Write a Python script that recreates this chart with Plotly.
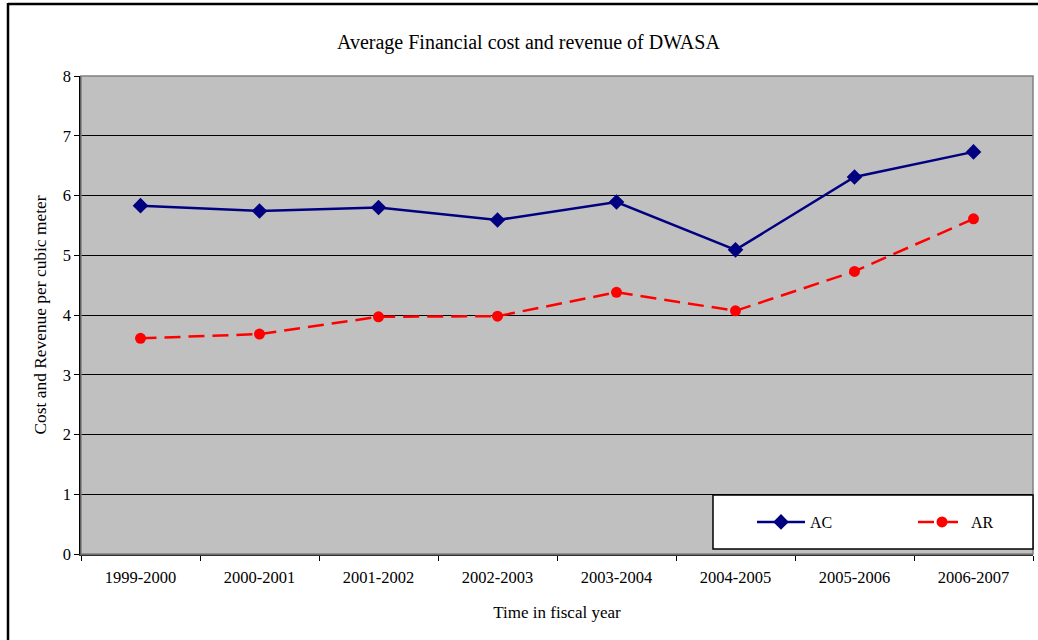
import plotly.graph_objects as go

years = ["1999-2000", "2000-2001", "2001-2002", "2002-2003",
         "2003-2004", "2004-2005", "2005-2006", "2006-2007"]
ac_values = [5.83, 5.74, 5.80, 5.59, 5.89, 5.09, 6.31, 6.73]
ar_values = [3.61, 3.68, 3.97, 3.98, 4.38, 4.07, 4.73, 5.61]
y_ticks = [0, 1, 2, 3, 4, 5, 6, 7, 8]

W, H = 1038, 640
L, R, T, B = 81, 5, 76, 86
FONT = "Liberation Serif"

fig = go.Figure()
fig.add_trace(go.Scatter(
    x=years, y=ac_values, name="AC", mode="lines+markers",
    line=dict(color="#000080", width=2.5),
    marker=dict(symbol="diamond", size=12, color="#000080"),
))
fig.add_trace(go.Scatter(
    x=years, y=ar_values, name="AR", mode="lines+markers",
    line=dict(color="#FF0000", width=2.5, dash="16px,8px"),
    marker=dict(symbol="circle", size=11, color="#FF0000"),
))

pw = W - L - R
ph = H - T - B

def px_x(p):
    return (p - L) / pw

def px_y(p):
    return (H - B - p) / ph

fig.update_layout(
    width=W, height=H,
    margin=dict(l=L, r=R, t=T, b=B, autoexpand=False),
    paper_bgcolor="white",
    plot_bgcolor="#C0C0C0",
    font=dict(family=FONT, size=16, color="black"),
    showlegend=True,
    legend=dict(
        orientation="h",
        x=px_x(752), y=px_y(522), xanchor="left", yanchor="middle",
        bgcolor="rgba(0,0,0,0)", borderwidth=0,
        font=dict(family=FONT, size=16, color="black"),
        entrywidth=98, entrywidthmode="pixels",
        itemwidth=48,
        tracegroupgap=0,
    ),
    xaxis=dict(
        type="category",
        showgrid=False,
        showline=True, linecolor="#333333", linewidth=2,
        ticks="outside", ticklen=5, tickcolor="black", tickson="boundaries",
        tickfont=dict(family=FONT, size=16.5),
        ticklabelstandoff=7,
        title=dict(text="Time in fiscal year", font=dict(family=FONT, size=17), standoff=20),
        range=[-0.5, 7.5],
        zeroline=False,
        automargin=False,
    ),
    yaxis=dict(
        range=[0, 8],
        tickvals=y_ticks,
        showgrid=True, gridcolor="black", gridwidth=1,
        showline=True, linecolor="black", linewidth=1.5,
        ticks="outside", ticklen=5, tickcolor="black",
        tickfont=dict(family=FONT, size=16.5),
        title=dict(text="Cost and Revenue per cubic meter", font=dict(family=FONT, size=17.4), standoff=12),
        zeroline=False,
        automargin=False,
    ),
    shapes=[
        dict(type="rect", xref="paper", yref="paper", x0=0, x1=1, y0=0, y1=1,
             line=dict(color="#808080", width=1.5), layer="above"),
        dict(type="rect", xref="paper", yref="paper",
             x0=px_x(713), x1=px_x(1033), y0=px_y(549), y1=px_y(495),
             fillcolor="white", line=dict(color="black", width=1.5), layer="above"),
        dict(type="line", xref="paper", yref="paper",
             x0=px_x(8), x1=px_x(8), y0=px_y(3), y1=px_y(645),
             line=dict(color="black", width=2.5)),
        dict(type="line", xref="paper", yref="paper",
             x0=px_x(8), x1=px_x(1045), y0=px_y(4), y1=px_y(4),
             line=dict(color="black", width=2.5)),
    ],
    annotations=[
        dict(text="Average Financial cost and revenue of DWASA",
             xref="paper", yref="paper", x=px_x(528), y=px_y(42),
             xanchor="center", yanchor="middle", showarrow=False,
             font=dict(family=FONT, size=20, color="black")),
    ],
)

fig.write_html("out.html")
